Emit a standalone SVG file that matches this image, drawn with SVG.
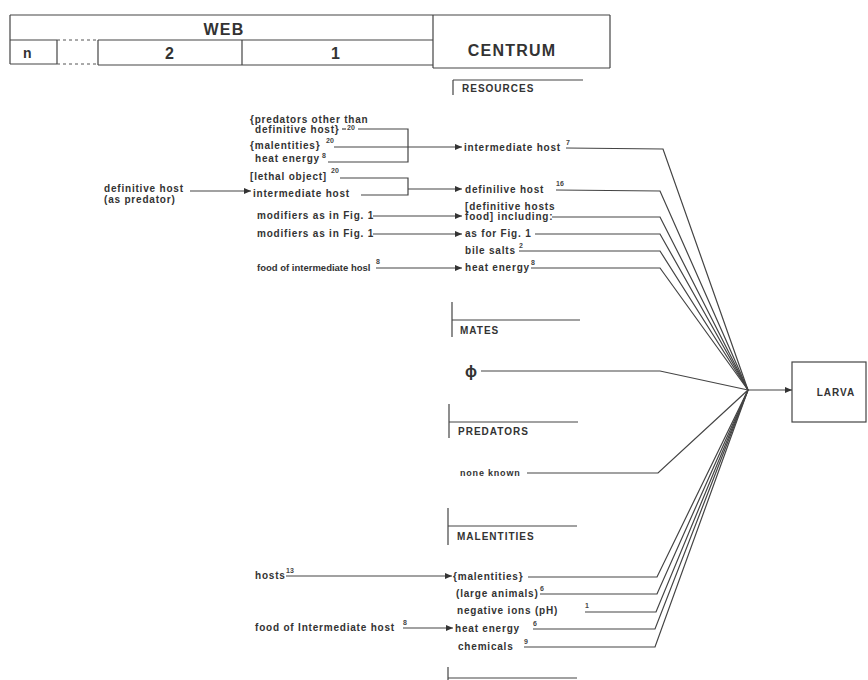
<svg xmlns="http://www.w3.org/2000/svg" width="868" height="680" viewBox="0 0 868 680">
<defs>
<style>
.t{font-family:"Liberation Sans",Arial,Helvetica,sans-serif;font-weight:bold;font-size:10px;fill:#333;letter-spacing:0.8px}
.s{font-family:"Liberation Sans",Arial,sans-serif;font-weight:bold;font-size:7px;fill:#444;letter-spacing:0}
.h{font-family:"Liberation Sans",Arial,sans-serif;font-weight:bold;font-size:10px;fill:#333;letter-spacing:1px}
.big{font-family:"Liberation Sans",Arial,sans-serif;font-weight:bold;font-size:16px;fill:#333;letter-spacing:1.2px}
.ln{stroke:#444;stroke-width:1.2;fill:none}
.bx{stroke:#444;stroke-width:1.2;fill:none}
.dash{stroke:#555;stroke-width:1;stroke-dasharray:3 3;fill:none}
</style>
<marker id="ar" markerWidth="7" markerHeight="6" refX="7" refY="3" orient="auto" markerUnits="userSpaceOnUse">
<path d="M0,0 L7,3 L0,6 z" fill="#333"/>
</marker>
</defs>
<rect width="868" height="680" fill="#fff"/>

<g id="header">
<line class="bx" x1="10" y1="15" x2="610" y2="15"/>
<line class="bx" x1="10" y1="15" x2="10" y2="64"/>
<line class="bx" x1="610" y1="15" x2="610" y2="68"/>
<line class="bx" x1="433" y1="15" x2="433" y2="68"/>
<line class="bx" x1="10" y1="40" x2="57" y2="40"/>
<line class="bx" x1="98" y1="40" x2="433" y2="40"/>
<line class="bx" x1="57" y1="40" x2="57" y2="64"/>
<line class="bx" x1="10" y1="64" x2="57" y2="64"/>
<line class="dash" x1="57" y1="40" x2="98" y2="40"/>
<line class="dash" x1="57" y1="64" x2="98" y2="64"/>
<line class="bx" x1="98" y1="40" x2="98" y2="65"/>
<line class="bx" x1="242" y1="40" x2="242" y2="65"/>
<line class="bx" x1="98" y1="65" x2="433" y2="65"/>
<line class="bx" x1="433" y1="68" x2="610" y2="68"/>
<text class="big" x="224" y="35" text-anchor="middle">WEB</text>
<text class="big" x="28" y="58" text-anchor="middle" style="font-size:14px">n</text>
<text class="big" x="170" y="59" text-anchor="middle">2</text>
<text class="big" x="336" y="59" text-anchor="middle">1</text>
<text class="big" x="512" y="56" text-anchor="middle">CENTRUM</text>
</g>

<g id="resources-head">
<line class="bx" x1="453" y1="80" x2="583" y2="80"/>
<line class="bx" x1="453" y1="80" x2="453" y2="95"/>
<text class="h" x="462" y="92">RESOURCES</text>
</g>
<g id="mates-head">
<line class="bx" x1="452" y1="320" x2="580" y2="320"/>
<line class="bx" x1="452" y1="302" x2="452" y2="337"/>
<text class="h" x="460" y="334">MATES</text>
</g>
<g id="predators-head">
<line class="bx" x1="449" y1="422" x2="578" y2="422"/>
<line class="bx" x1="449" y1="404" x2="449" y2="438"/>
<text class="h" x="458" y="435">PREDATORS</text>
</g>
<g id="malentities-head">
<line class="bx" x1="448" y1="526" x2="577" y2="526"/>
<line class="bx" x1="448" y1="508" x2="448" y2="545"/>
<text class="h" x="457" y="540">MALENTITIES</text>
</g>
<g id="bottom-head">
<line class="bx" x1="448" y1="678" x2="577" y2="678"/>
<line class="bx" x1="448" y1="667" x2="448" y2="680"/>
</g>

<g id="larva">
<rect class="bx" x="792" y="362" width="74" height="60"/>
<text class="h" x="836" y="396" text-anchor="middle">LARVA</text>
</g>

<g id="left-predators">
<text class="t" x="250" y="123">{predators other than</text>
<text class="t" x="255" y="133">definitive host}</text>
<text class="s" x="347" y="130">20</text>
</g>
<g id="left-malentities">
<text class="t" x="250" y="149">{malentities}</text>
<text class="s" x="326" y="143">20</text>
</g>
<g id="left-heat">
<text class="t" x="255" y="162">heat energy</text>
<text class="s" x="322" y="158">8</text>
</g>
<g id="left-lethal">
<text class="t" x="250" y="180">[lethal object]</text>
<text class="s" x="331" y="173">20</text>
</g>
<g id="left-inthost">
<text class="t" x="253" y="197">intermediate host</text>
</g>
<g id="left-defhost">
<text class="t" x="104" y="192">definitive host</text>
<text class="t" x="104" y="203">(as predator)</text>
</g>
<g id="left-mod1"><text class="t" x="257" y="219">modifiers as in Fig. 1</text></g>
<g id="left-mod2"><text class="t" x="257" y="237">modifiers as in Fig. 1</text></g>
<g id="left-food">
<text class="t" x="257" y="271" style="font-size:9.5px;letter-spacing:0">food of intermediate hosl</text>
<text class="s" x="376" y="264">8</text>
</g>

<g id="r-inthost">
<text class="t" x="464" y="151">intermediate host</text>
<text class="s" x="566" y="145">7</text>
</g>
<g id="r-defhost">
<text class="t" x="465" y="193">definilive host</text>
<text class="s" x="556" y="186">16</text>
</g>
<g id="r-food">
<text class="t" x="465" y="210">[definitive hosts</text>
<text class="t" x="465" y="220">food] including:</text>
</g>
<g id="r-asfor"><text class="t" x="465" y="237">as for Fig. 1</text></g>
<g id="r-bile">
<text class="t" x="465" y="254">bile salts</text>
<text class="s" x="519" y="248">2</text>
</g>
<g id="r-heat">
<text class="t" x="465" y="271">heat energy</text>
<text class="s" x="531" y="265">8</text>
</g>
<g id="r-phi"><text class="t" x="465" y="377" style="font-size:16px;letter-spacing:0">ϕ</text></g>
<g id="r-none"><text class="t" x="460" y="476" style="font-size:9px">none known</text></g>

<g id="b-hosts">
<text class="t" x="255" y="579">hosts</text>
<text class="s" x="286" y="573">13</text>
</g>
<g id="b-malentities"><text class="t" x="453" y="580">{malentities}</text></g>
<g id="b-large">
<text class="t" x="456" y="597">(large animals)</text>
<text class="s" x="540" y="591">6</text>
</g>
<g id="b-ions">
<text class="t" x="457" y="614">negative ions (pH)</text>
<text class="s" x="585" y="608">1</text>
</g>
<g id="b-food">
<text class="t" x="255" y="631">food of Intermediate host</text>
<text class="s" x="403" y="625">8</text>
</g>
<g id="b-heat">
<text class="t" x="455" y="632">heat energy</text>
<text class="s" x="533" y="626">6</text>
</g>
<g id="b-chem">
<text class="t" x="458" y="650">chemicals</text>
<text class="s" x="524" y="644">9</text>
</g>

<g id="connectors">
<polyline class="ln" points="342,129 346,129"/>
<polyline class="ln" points="358,129 408,129 408,162 328,162"/>
<line class="ln" x1="334" y1="147" x2="462" y2="147" marker-end="url(#ar)"/>
<polyline class="ln" points="340,178 408,178 408,195 361,195"/>
<line class="ln" x1="408" y1="189" x2="462" y2="189" marker-end="url(#ar)"/>
<line class="ln" x1="190" y1="191" x2="251" y2="191" marker-end="url(#ar)"/>
<line class="ln" x1="373" y1="216" x2="462" y2="216" marker-end="url(#ar)"/>
<line class="ln" x1="373" y1="234" x2="462" y2="234" marker-end="url(#ar)"/>
<line class="ln" x1="376" y1="268" x2="462" y2="268" marker-end="url(#ar)"/>
<line class="ln" x1="286" y1="576" x2="452" y2="576" marker-end="url(#ar)"/>
<line class="ln" x1="403" y1="628" x2="453" y2="628" marker-end="url(#ar)"/>

<polyline class="ln" points="566,148 663,149 748,390"/>
<polyline class="ln" points="556,190 660,191 748,390"/>
<polyline class="ln" points="552,217 660,217 748,390"/>
<polyline class="ln" points="535,234 660,234 748,390"/>
<polyline class="ln" points="519,251 660,251 748,390"/>
<polyline class="ln" points="531,268 660,268 748,390"/>
<polyline class="ln" points="481,371 660,371 748,390"/>
<polyline class="ln" points="527,473 658,473 748,390"/>
<polyline class="ln" points="528,577 657,577 748,390"/>
<polyline class="ln" points="540,594 657,594 748,390"/>
<polyline class="ln" points="585,612 656,612 748,390"/>
<polyline class="ln" points="533,629 655,629 748,390"/>
<polyline class="ln" points="524,647 655,647 748,390"/>
<line class="ln" x1="748" y1="390" x2="792" y2="390" marker-end="url(#ar)"/>
</g>
</svg>
